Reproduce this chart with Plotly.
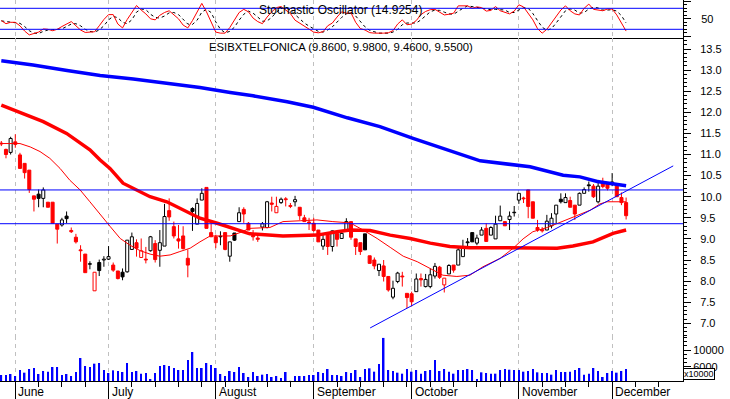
import pandas as pd
import plotly.graph_objects as go

# ---------------- data ----------------
holidays = ["2002-08-15", "2002-11-01"]
trading_days = [d for d in pd.bdate_range("2002-05-29", "2002-12-20")
                if d.strftime("%Y-%m-%d") not in holidays]

opens = [11.27, 11.12, 11.05, 11.30, 10.99, 10.79, 10.63, 10.02, 10.06, 9.96,
         9.87, 9.87, 9.35, 9.33, 9.54, 9.20, 9.04, 8.74, 8.64, 8.41,
         7.77, 8.44, 8.50, 8.52, 8.38, 8.24, 8.21, 8.22, 8.75, 8.91,
         8.56, 8.52, 8.72, 8.89, 8.73, 8.83, 9.67, 9.29, 9.00, 9.07,
         8.54, 9.72, 9.35, 9.92, 10.22, 9.15, 9.05, 9.06, 9.15, 8.59,
         9.14, 9.41, 9.70, 9.37, 9.08, 9.02, 9.28, 9.27, 9.85, 9.62,
         9.86, 9.95, 9.79, 9.88, 9.75, 9.50, 9.40, 9.37, 9.21, 8.83,
         9.13, 8.82, 9.13, 9.01, 9.20, 9.41, 9.00, 8.91, 9.12, 8.60,
         8.50, 8.25, 8.36, 8.11, 7.62, 7.99, 8.12, 7.71, 7.70, 7.75,
         8.06, 7.87, 7.87, 8.12, 8.33, 7.91, 8.17, 8.38, 8.38, 8.58,
         8.93, 9.15, 8.90, 9.09, 9.25, 9.09, 9.00, 9.43, 9.41, 9.46,
         9.63, 9.92, 9.97, 10.16, 9.88, 9.27, 9.22, 9.21, 9.31, 9.59,
         9.94, 9.86, 9.91, 9.80, 9.80, 10.08, 10.28, 10.25, 9.88, 10.35,
         10.30, 10.30, 10.27, 9.98, 9.86]
highs = [11.32, 11.14, 11.42, 11.48, 11.04, 10.79, 10.63, 10.02, 10.17, 10.22,
         9.87, 9.87, 9.35, 9.50, 9.65, 9.27, 9.12, 8.85, 8.64, 8.47,
         8.21, 8.51, 8.59, 8.83, 8.44, 8.24, 8.30, 8.97, 9.15, 8.99,
         9.01, 8.81, 9.07, 8.97, 9.21, 9.83, 9.96, 9.41, 9.33, 9.30,
         8.75, 9.75, 9.96, 10.20, 10.22, 9.37, 9.10, 9.18, 9.15, 8.93,
         9.14, 9.75, 9.75, 9.40, 9.21, 9.10, 9.40, 9.90, 10.00, 10.00,
         9.98, 9.99, 9.85, 10.02, 9.75, 9.57, 9.50, 9.50, 9.21, 9.09,
         9.13, 9.20, 9.13, 9.21, 9.49, 9.41, 9.00, 8.91, 9.12, 8.60,
         8.56, 8.40, 8.50, 8.11, 8.01, 8.22, 8.22, 7.71, 7.75, 8.18,
         8.18, 8.17, 8.30, 8.43, 8.36, 8.07, 8.40, 8.38, 8.80, 8.98,
         9.02, 9.15, 9.10, 9.28, 9.37, 9.30, 9.55, 9.79, 9.41, 9.65,
         9.78, 10.08, 10.00, 10.16, 9.88, 9.45, 9.28, 9.57, 9.61, 9.80,
         10.08, 10.08, 10.00, 9.80, 10.10, 10.22, 10.36, 10.30, 10.40, 10.45,
         10.33, 10.56, 10.27, 10.10, 9.98]
lows = [11.20, 10.91, 11.00, 11.16, 10.67, 10.43, 10.09, 9.65, 9.75, 9.75,
        9.75, 9.37, 8.89, 9.29, 9.37, 9.14, 8.89, 8.46, 8.20, 8.28,
        7.77, 8.12, 8.34, 8.50, 8.22, 8.04, 8.02, 8.20, 8.75, 8.58,
        8.56, 8.42, 8.70, 8.44, 8.34, 8.83, 9.43, 9.01, 8.77, 8.75,
        8.09, 9.19, 9.35, 9.92, 9.25, 9.05, 8.78, 8.85, 8.73, 8.46,
        8.95, 9.41, 9.38, 9.21, 8.96, 8.93, 9.20, 9.25, 9.65, 9.62,
        9.83, 9.77, 9.73, 9.77, 9.45, 9.41, 9.21, 9.17, 8.93, 8.74,
        8.62, 8.70, 8.82, 9.01, 9.20, 8.98, 8.62, 8.62, 8.74, 8.42,
        8.28, 8.12, 7.99, 7.75, 7.57, 7.95, 7.87, 7.36, 7.40, 7.75,
        7.87, 7.85, 7.83, 8.06, 8.05, 7.73, 8.17, 8.20, 8.38, 8.58,
        8.78, 8.93, 8.85, 9.09, 8.94, 9.09, 9.00, 9.43, 9.31, 9.21,
        9.53, 9.83, 9.85, 9.49, 9.49, 9.17, 9.15, 9.21, 9.25, 9.37,
        9.84, 9.86, 9.75, 9.45, 9.80, 10.08, 10.12, 9.97, 9.84, 10.20,
        10.15, 10.25, 10.00, 9.80, 9.46]
closes = [11.25, 11.00, 11.38, 11.24, 10.67, 10.57, 10.17, 9.94, 9.96, 10.16,
          9.75, 9.37, 9.23, 9.45, 9.48, 9.17, 8.93, 8.72, 8.20, 8.40,
          8.21, 8.25, 8.52, 8.58, 8.26, 8.06, 8.10, 8.97, 9.05, 8.78,
          8.72, 8.50, 9.05, 8.51, 8.91, 9.53, 9.52, 9.07, 8.95, 8.77,
          8.38, 9.65, 9.84, 10.08, 9.25, 9.05, 8.91, 9.05, 8.75, 8.93,
          8.97, 9.62, 9.59, 9.21, 9.05, 8.99, 9.36, 9.88, 9.82, 9.77,
          9.94, 9.93, 9.77, 9.93, 9.55, 9.41, 9.38, 9.20, 8.93, 8.99,
          8.82, 9.19, 8.99, 9.13, 9.41, 9.04, 8.82, 8.70, 8.74, 8.42,
          8.36, 8.40, 8.11, 7.79, 7.83, 8.19, 8.10, 7.61, 7.51, 8.05,
          8.03, 8.04, 8.15, 8.35, 8.09, 8.07, 8.37, 8.26, 8.74, 8.78,
          8.91, 8.93, 9.02, 9.21, 8.94, 9.27, 9.35, 9.54, 9.31, 9.54,
          9.62, 10.08, 9.95, 9.77, 9.49, 9.21, 9.19, 9.42, 9.49, 9.80,
          9.88, 9.98, 9.75, 9.59, 10.08, 10.17, 10.26, 10.00, 10.25, 10.24,
          10.20, 10.35, 10.00, 9.86, 9.55]
volume = [4000, 4000, 4240, 3760, 5200, 4560, 5440, 5680, 4240, 4960,
          4800, 5920, 5920, 4000, 4240, 3760, 4720, 8080, 6160, 5920,
          6720, 6880, 5200, 4480, 5120, 4960, 4720, 6880, 4720, 4960,
          4320, 4480, 3040, 4480, 6160, 6400, 6160, 5680, 5200, 5200,
          7600, 9520, 5680, 5680, 6880, 6400, 5680, 4240, 3760, 4960,
          4720, 5920, 4480, 3520, 4720, 3760, 4080, 4240, 3520, 3760,
          3280, 4720, 2600, 3760, 3760, 3760, 4000, 4000, 4720, 4480,
          5440, 4000, 4000, 3760, 4720, 4480, 5200, 3520, 5440, 5600,
          4800, 6640, 12900, 5200, 4960, 4560, 4320, 5440, 4800, 5200,
          4320, 4960, 5200, 7600, 4960, 5440, 4800, 4320, 5200, 5200,
          5440, 5200, 3040, 4640, 4480, 4320, 4320, 5200, 5440, 5280,
          5200, 5200, 4800, 4960, 5440, 4640, 4480, 4480, 4080, 5200,
          4720, 4720, 4800, 5200, 5680, 4080, 4320, 5680, 4960, 3520,
          4480, 4960, 4560, 4960, 5440]
stoch_k = [45, 36, 40, 40, 30, 15, 4, 8, 12, 21,
           20, 16, 20, 28, 36, 42, 30, 18, 11, 12,
           13, 30, 48, 62, 62, 35, 24, 48, 70, 88,
           75, 64, 50, 47, 60, 68, 73, 62, 50, 32,
           24, 45, 68, 94, 70, 40, 12, 9, 9, 25,
           45, 68, 77, 70, 52, 42, 36, 55, 70, 82,
           85, 75, 65, 46, 38, 30, 20, 12, 10, 13,
           30, 38, 55, 70, 66, 67, 40, 22, 18, 10.5,
           9, 8.6, 9, 10, 16, 35, 47, 33, 35, 45,
           62, 71, 76, 77, 68, 61, 63, 66, 87, 87,
           87, 80, 84, 82, 72, 74, 85, 73, 68, 64,
           72, 90, 84, 65, 47, 22, 9, 20, 38, 56,
           75, 87, 73, 64, 61, 80, 92, 77, 75, 73,
           78, 78, 61, 38, 14.9254]
stoch_d = [44, 42, 40, 39, 37, 28, 16, 9, 8, 14,
           18, 19, 19, 21, 28, 35, 36, 30, 20, 14,
           12, 18, 30, 47, 57, 53, 40, 36, 47, 69,
           78, 76, 63, 54, 52, 58, 67, 68, 62, 48,
           35, 34, 46, 69, 77, 68, 41, 20, 10, 14,
           26, 46, 63, 72, 66, 55, 43, 44, 54, 69,
           79, 81, 75, 62, 50, 38, 29, 21, 14, 12,
           18, 27, 41, 54, 64, 68, 58, 43, 27, 17,
           12, 9, 9, 9, 12, 20, 33, 38, 38, 38,
           47, 59, 70, 75, 74, 69, 64, 63, 72, 80,
           87, 85, 84, 82, 79, 76, 77, 77, 75, 68,
           68, 75, 82, 80, 65, 45, 26, 17, 22, 38,
           56, 73, 78, 75, 66, 68, 78, 83, 81, 75,
           75, 76, 72, 59, 38]

ma_short_idx = [0, 4.0, 6.2, 8.3, 10.4, 12.6, 14.7, 16.9, 19.0, 21.2, 23.3, 25.5,
                27.6, 29.8, 31.9, 34.0, 36.2, 38.3, 40.5, 42.6, 44.8, 46.9, 49.1,
                51.2, 53.3, 57.6, 60.4, 64.1, 67.7, 71.1, 74.8, 77.6, 80.6, 83.4,
                86.2, 89.2, 92.0, 94.7, 97.7, 100.5, 103.3, 107.0, 109.8, 111.9,
                114.0, 117.1, 119.8, 122.0, 124.1, 126.3, 128.4, 129.9, 132.7, 134]
ma_short_val = [11.26, 11.26, 11.18, 11.07, 10.91, 10.67, 10.39, 10.16, 9.88, 9.57,
                9.30, 9.01, 8.85, 8.72, 8.64, 8.59, 8.62, 8.70, 8.78, 8.93, 9.07,
                9.07, 9.07, 9.15, 9.25, 9.27, 9.41, 9.43, 9.45, 9.41, 9.38, 9.21,
                9.01, 8.80, 8.59, 8.46, 8.30, 8.14, 8.11, 8.14, 8.34, 8.54, 8.78,
                9.00, 9.17, 9.27, 9.39, 9.49, 9.59, 9.68, 9.83, 9.88, 9.88, 9.88]
ma_mid_idx = [0, 9.0, 14.0, 19.0, 21.2, 23.3, 26.1, 28.3, 31.9, 35.5, 39.8, 42.6,
              46.3, 49.7, 53.3, 60.4, 67.7, 72.0, 74.8, 79.1, 83.4, 87.7, 92.0,
              96.2, 100.5, 107.0, 111.3, 119.2, 122.6, 126.9, 131.2, 134]
ma_mid_val = [12.17, 11.78, 11.50, 11.11, 10.87, 10.67, 10.32, 10.20, 10.00, 9.88,
              9.64, 9.49, 9.37, 9.25, 9.12, 9.07, 9.09, 9.17, 9.21, 9.20, 9.09,
              9.01, 8.90, 8.82, 8.79, 8.79, 8.78, 8.78, 8.83, 8.93, 9.13, 9.21]
ma_long_idx = [0, 6.8, 14.1, 21.2, 28.3, 35.5, 42.6, 49.1, 54.0, 61.3, 66.9, 74.2,
               81.2, 88.3, 96.2, 102.7, 113.4, 120.5, 124.1, 127.8, 134]
ma_long_val = [13.22, 13.12, 12.99, 12.87, 12.79, 12.69, 12.59, 12.47, 12.39, 12.25,
               12.12, 11.87, 11.66, 11.38, 11.08, 10.85, 10.71, 10.51, 10.47, 10.36,
               10.26]
trend_idx = [79.1, 144.1]
trend_val = [6.89, 10.73]
price_levels = [10.16, 9.36]
stoch_levels = [80, 20]
symbol = "ESIBXTELFONICA"

# ---------------- styling / layout helpers ----------------
FONT = "Liberation Sans, Arial, sans-serif"
W, H, R = 730, 399, 47
RED, BLACK, BLUE, WHITE = "#ff0000", "#000000", "#0000ff", "#ffffff"


def py(px):
    return 1 - px / H


n = len(closes)
idx = list(range(n))

month_idx, month_txt, monday_idx = [], [], []
for k, d in enumerate(trading_days):
    if k > 0 and d.month != trading_days[k - 1].month:
        month_idx.append(k)
        month_txt.append(d.strftime("%B"))
    if d.weekday() == 0:
        monday_idx.append(k)

edge, fill, base, body = [], [], [], []
wick_x = {RED: [], BLACK: []}
wick_y = {RED: [], BLACK: []}
for k in range(n):
    o, h, l, c = opens[k], highs[k], lows[k], closes[k]
    prev = closes[k - 1] if k > 0 else o
    col = RED if c < prev else BLACK
    edge.append(col)
    fill.append(WHITE if c > o else col)
    top, bot = max(o, c), min(o, c)
    base.append(bot)
    body.append(max(top - bot, 0.012))
    wick_x[col] += [k, k, None, k, k, None]
    wick_y[col] += [h, top, None, bot, l, None]

fig = go.Figure()

# stochastic panel
fig.add_trace(go.Scatter(x=idx, y=stoch_d, mode="lines", xaxis="x", yaxis="y",
                         line=dict(color=BLACK, width=1, dash="3px,3px")))
fig.add_trace(go.Scatter(x=idx, y=stoch_k, mode="lines", xaxis="x", yaxis="y",
                         line=dict(color=RED, width=1)))

# price panel
for col in (RED, BLACK):
    fig.add_trace(go.Scatter(x=wick_x[col], y=wick_y[col], mode="lines",
                             xaxis="x2", yaxis="y2", line=dict(color=col, width=1),
                             connectgaps=False))
fig.add_trace(go.Bar(x=idx, y=body, base=base, width=0.65, xaxis="x2", yaxis="y2",
                     marker=dict(color=fill, line=dict(color=edge, width=1))))
fig.add_trace(go.Scatter(x=ma_long_idx, y=ma_long_val, mode="lines", xaxis="x2", yaxis="y2",
                         line=dict(color=BLUE, width=3.5)))
fig.add_trace(go.Scatter(x=ma_mid_idx, y=ma_mid_val, mode="lines", xaxis="x2", yaxis="y2",
                         line=dict(color=RED, width=3.5)))
fig.add_trace(go.Scatter(x=ma_short_idx, y=ma_short_val, mode="lines", xaxis="x2", yaxis="y2",
                         line=dict(color=RED, width=1)))
fig.add_trace(go.Scatter(x=trend_idx, y=trend_val, mode="lines", xaxis="x2", yaxis="y2",
                         line=dict(color=BLUE, width=1)))

# volume panel
fig.add_trace(go.Bar(x=idx, y=volume, width=0.35, xaxis="x3", yaxis="y3",
                     marker=dict(color=BLUE, line=dict(width=0))))

xr = [-0.28, 146.2]
common_x = dict(range=xr, showgrid=True, gridcolor="#c0c0c0", griddash="4px,4px",
                gridwidth=1, tickmode="array", tickvals=month_idx, zeroline=False,
                showticklabels=False, domain=[0, 1])
common_y = dict(side="right", showline=True, linecolor=BLACK, linewidth=1,
                ticks="outside", tickcolor=BLACK, ticklen=7, showgrid=False,
                zeroline=False, tickfont=dict(size=11, color=BLACK, family=FONT))

fig.update_layout(
    width=W, height=H,
    margin=dict(l=0, r=R, t=0, b=0),
    paper_bgcolor=WHITE, plot_bgcolor=WHITE,
    showlegend=False, hovermode=False, barmode="overlay",
    font=dict(family=FONT, size=11, color=BLACK),
    xaxis=dict(common_x, anchor="y", matches="x3", ticks="",
               showline=True, linecolor=BLACK, linewidth=1),
    xaxis2=dict(common_x, anchor="y2", matches="x3", ticks="", showline=False),
    xaxis3=dict(common_x, anchor="y3", showline=True, linecolor=BLACK, linewidth=1,
                ticks="outside", ticklen=18, tickcolor=BLACK, tickwidth=1,
                minor=dict(tickmode="array", tickvals=monday_idx, ticks="outside",
                           ticklen=5, tickcolor=BLACK, tickwidth=1, showgrid=False)),
    yaxis=dict(common_y, domain=[py(38), 1], range=[-4.86, 103.7], anchor="x",
               tickmode="array", tickvals=[0, 50, 100], ticktext=["", "50", ""],
               ticklabelstandoff=8,
               minor=dict(dtick=10, ticks="outside", ticklen=3, tickcolor=BLACK)),
    yaxis2=dict(common_y, domain=[py(336), py(38)], range=[6.699, 13.761], anchor="x2",
                tick0=7, dtick=0.5, tickformat=".1f", ticklabelstandoff=7,
                minor=dict(dtick=0.1, ticks="outside", ticklen=3, tickcolor=BLACK)),
    yaxis3=dict(common_y, domain=[py(381), py(336)], range=[2560, 13360], anchor="x3",
                tickmode="array", tickvals=[6000, 10000], ticktext=["6000", "10000"],
                minor=dict(dtick=1000, ticks="outside", ticklen=3, tickcolor=BLACK)),
)

shapes = []
for v in price_levels:
    shapes.append(dict(type="line", xref="x2 domain", x0=0, x1=1, yref="y2", y0=v, y1=v,
                       line=dict(color=BLUE, width=1)))
for v in stoch_levels:
    shapes.append(dict(type="line", xref="x domain", x0=0, x1=1, yref="y", y0=v, y1=v,
                       line=dict(color=BLUE, width=1)))
fig.update_layout(shapes=shapes)

annotations = [
    dict(text=f"Stochastic Oscillator ({stoch_k[-1]:.4f})", xref="paper", yref="paper",
         x=340.5 / (W - R), y=py(10), xanchor="center", yanchor="middle", showarrow=False,
         font=dict(size=12, color=BLACK, family=FONT)),
    dict(text=f"{symbol} ({opens[-1]:.4f}, {highs[-1]:.4f}, {lows[-1]:.4f}, {closes[-1]:.4f})",
         xref="paper", yref="paper", x=340.5 / (W - R), y=py(47), xanchor="center",
         yanchor="middle", showarrow=False, font=dict(size=11.3, color=BLACK, family=FONT)),
    dict(text="x10000", xref="paper", yref="paper", x=683 / (W - R), y=py(373.5),
         xanchor="left", yanchor="middle", showarrow=False, bgcolor=WHITE,
         bordercolor=BLACK, borderwidth=1, borderpad=0,
         font=dict(size=9, color=BLACK, family=FONT)),
]
for k, t in zip(month_idx, month_txt):
    annotations.append(dict(text=t, xref="x3", yref="paper", x=k, y=py(391.5),
                            xanchor="left", yanchor="middle", xshift=1, showarrow=False,
                            font=dict(size=12, color=BLACK, family=FONT)))
fig.update_layout(annotations=annotations)

fig.write_html("out.html", config={"displayModeBar": False},
               post_script="document.body.style.margin='0';document.body.style.padding='0';")
